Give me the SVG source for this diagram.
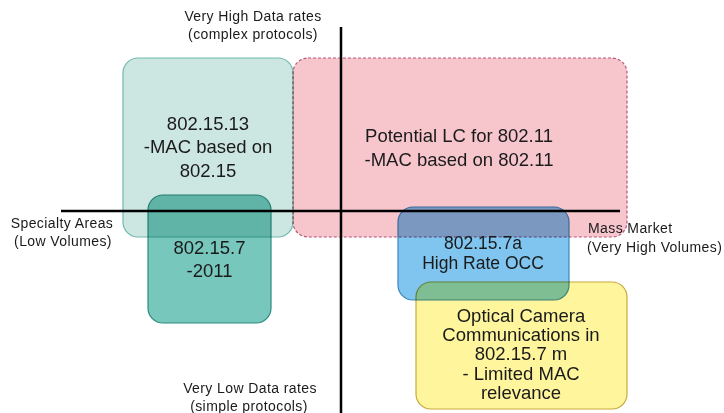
<svg xmlns="http://www.w3.org/2000/svg" width="724" height="413" viewBox="0 0 724 413">
<style>
.box{mix-blend-mode:multiply;stroke-width:1.2}
.lbl{font-family:"Liberation Sans",Arial,sans-serif;font-size:14px;letter-spacing:0.4px;fill:#1a1a1a;text-anchor:middle}
.txt{font-family:"Liberation Sans",Arial,sans-serif;font-size:18.5px;fill:#1a1a1a;text-anchor:middle}
.sm{font-size:17.5px}
.axis{stroke:#000;stroke-width:2.5}
</style>
<rect width="724" height="413" fill="#fff"/>
<g id="node-802-15-13"><rect class="box" x="123" y="58" width="170" height="179" rx="15" fill="#cce6e1" stroke="#72b9ad"/></g>
<g id="node-potential-lc"><rect class="box" x="293" y="58" width="334" height="179" rx="15" fill="#f7c6cd" stroke="#b8557a" stroke-dasharray="3,2"/></g>
<g id="node-802-15-7"><rect class="box" x="148" y="195" width="123" height="128" rx="15" fill="#77c7bd" stroke="#2b8c7d"/></g>
<g id="node-802-15-7a"><rect class="box" x="398" y="207" width="171" height="93" rx="15" fill="#7fc5ef" stroke="#3a87bf"/></g>
<g id="node-occ"><rect class="box" x="416" y="282" width="211" height="127" rx="15" fill="#fff59d" stroke="#c8a93a"/></g>
<g id="connectors">
<line class="axis" x1="341" y1="27" x2="341" y2="413"/>
<line class="axis" x1="61" y1="211" x2="620" y2="211"/>
</g>
<g id="labels">
<text class="lbl" x="253" y="21">Very High Data rates</text>
<text class="lbl" x="253" y="39">(complex protocols)</text>
<text class="lbl" x="250" y="393">Very Low Data rates</text>
<text class="lbl" x="249" y="411">(simple protocols)</text>
<text class="lbl" x="62" y="228">Specialty Areas</text>
<text class="lbl" x="63" y="246">(Low Volumes)</text>
<text class="lbl" x="588" y="233" style="text-anchor:start">Mass Market</text>
<text class="lbl" x="587" y="252" style="text-anchor:start">(Very High Volumes)</text>
</g>
<g id="texts">
<text class="txt" x="208" y="130">802.15.13</text>
<text class="txt" x="208" y="153">-MAC based on</text>
<text class="txt" x="208" y="177">802.15</text>
<text class="txt" x="459" y="142">Potential LC for 802.11</text>
<text class="txt" x="459" y="166">-MAC based on 802.11</text>
<text class="txt" x="209.5" y="254">802.15.7</text>
<text class="txt" x="209.5" y="277">-2011</text>
<text class="txt sm" x="483" y="249">802.15.7a</text>
<text class="txt sm" x="483" y="269">High Rate OCC</text>
<text class="txt" x="521" y="322">Optical Camera</text>
<text class="txt" x="521" y="341">Communications in</text>
<text class="txt" x="521" y="360">802.15.7 m</text>
<text class="txt" x="521" y="380">- Limited MAC</text>
<text class="txt" x="521" y="399">relevance</text>
</g>
</svg>
